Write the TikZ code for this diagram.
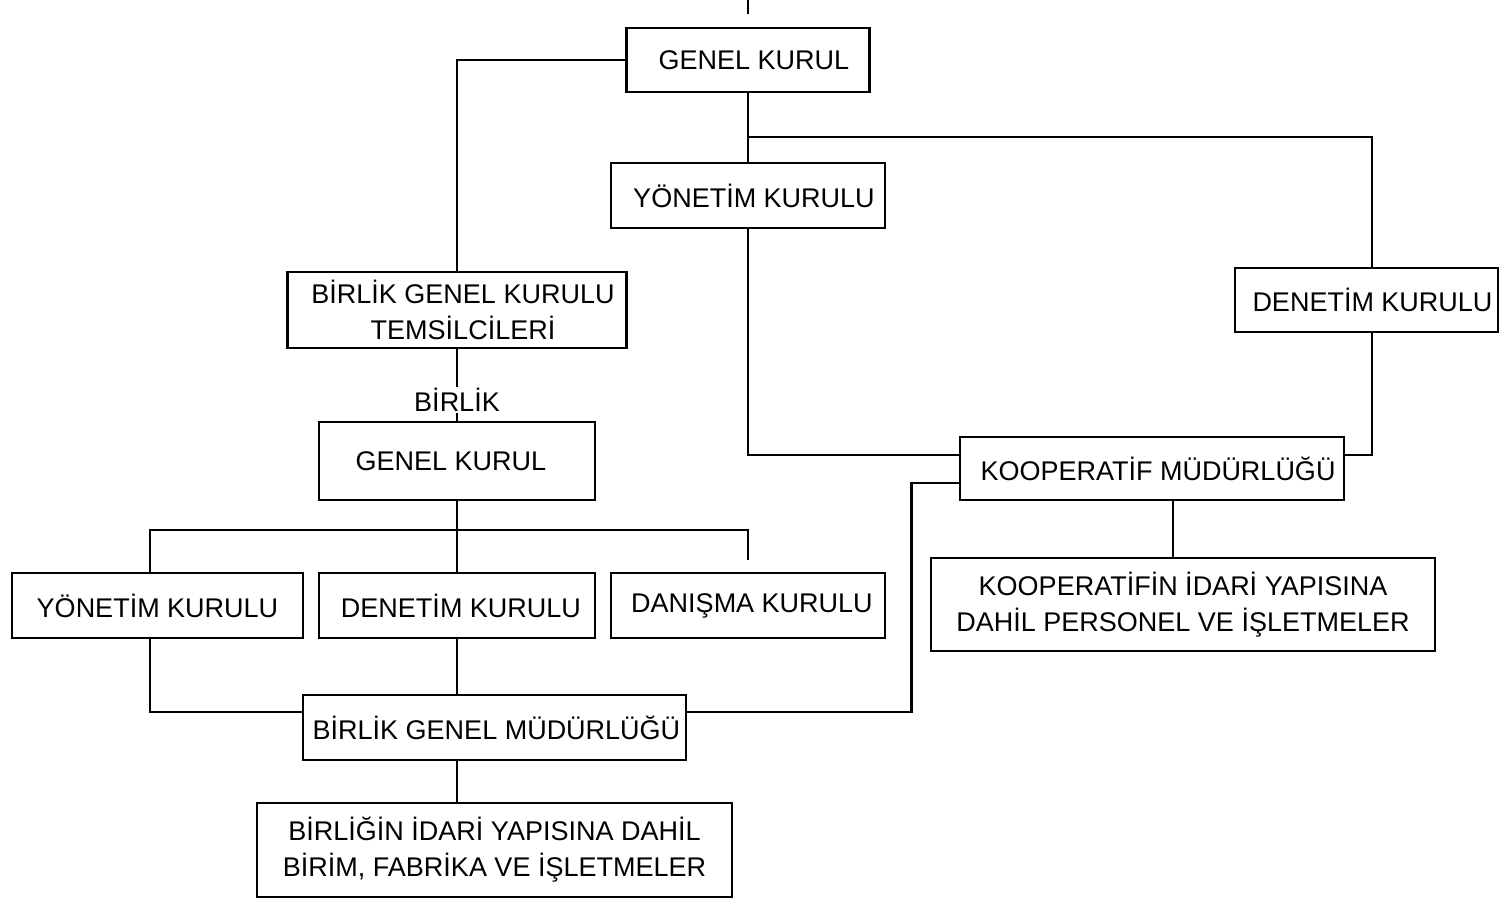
\documentclass[tikz,border=0pt]{standalone}
\usepackage{fontspec}
\setmainfont{Liberation Sans}
\begin{document}
\begin{tikzpicture}[x=0.5pt,y=-0.5pt,
  line width=1.4pt,
  box/.style={draw, line width=1.4pt, align=center, inner sep=0pt,
    font=\fontsize{13.5}{18}\selectfont},
  lbl/.style={inner sep=0pt, font=\fontsize{13.5}{18}\selectfont}]
\useasboundingbox (0,0) rectangle (1500,898);

% cooperative level
\node[box, minimum width=121.5pt, minimum height=32pt]   (gk)   at (748,60)     {\hspace*{6pt}GENEL KURUL};
\node[box, minimum width=137pt,   minimum height=32.5pt] (yk)   at (748,195.5)  {\hspace*{6pt}YÖNETİM KURULU};
\node[box, minimum width=131.5pt, minimum height=32pt]   (dk)   at (1366.5,300) {\hspace*{6pt}DENETİM KURULU};
\node[box, minimum width=192pt,   minimum height=31.5pt] (km)   at (1152,468.5) {\hspace*{6pt}KOOPERATİF MÜDÜRLÜĞÜ};
\node[box, minimum width=252pt,   minimum height=46.5pt] (kid)  at (1183,604.5) {KOOPERATİFİN İDARİ YAPISINA\\DAHİL PERSONEL VE İŞLETMELER};

% union level
\node[box, minimum width=169.5pt, minimum height=38pt]   (bgkt) at (457,310)    {\hspace*{6pt}BİRLİK GENEL KURULU\\\hspace*{6pt}TEMSİLCİLERİ};
\node[lbl] (birlik) at (457,400) {BİRLİK};
\node[box, minimum width=138pt,   minimum height=39pt]   (bgk)  at (457,461)    {\hspace*{-6pt}GENEL KURUL};
\node[box, minimum width=145.5pt, minimum height=32.5pt] (byk)  at (157.5,605.5) {YÖNETİM KURULU};
\node[box, minimum width=138pt,   minimum height=32.5pt] (bdk)  at (457,605.5)  {\hspace*{4pt}DENETİM KURULU};
\node[box, minimum width=137pt,   minimum height=32.5pt] (bdan) at (748,605.5)  {\hspace*{4pt}DANIŞMA KURULU};
\node[box, minimum width=191.5pt, minimum height=32.5pt] (bgm)  at (494.5,727.5) {\hspace*{2pt}BİRLİK GENEL MÜDÜRLÜĞÜ};
\node[box, minimum width=237.5pt, minimum height=47pt]   (bid)  at (494.5,850)  {BİRLİĞİN İDARİ YAPISINA DAHİL\\BİRİM, FABRİKA VE İŞLETMELER};

% free ends and junctions
\coordinate (topA) at (748,0);
\coordinate (topB) at (748,14);
\coordinate (j1)   at (748,137);
\coordinate (j2)   at (457,530);
\coordinate (dEnd) at (748,560);

% connectors
\draw (topA) -- (topB);
\draw (gk.west) -| (bgkt.north);
\draw (gk.south) -- (yk.north);
\draw (j1) -| ([xshift=2.75pt]dk.north);
\draw (yk.south) |- ([yshift=6.75pt]km.west);
\draw ([xshift=2.75pt]dk.south) |- ([yshift=6.75pt]km.east);
\draw ([xshift=10.5pt]km.south) -- ([xshift=10.5pt]km.south |- kid.north);
\draw ([yshift=-7.25pt]km.west) -- ++(-23.5pt,0) |- ([yshift=7.75pt]bgm.east);

\draw (bgkt.south) -- (birlik.north);
\draw (birlik.south) -- (bgk.north);
\draw (bgk.south) -- (bdk.north);
\draw ([xshift=-3.75pt]byk.north) |- (dEnd |- j2) -- (dEnd);
\draw ([xshift=-3.75pt]byk.south) |- ([yshift=7.75pt]bgm.west);
\draw (bdk.south) -- (bdk.south |- bgm.north);
\draw (bdk.south |- bgm.south) -- (bdk.south |- bid.north);
\end{tikzpicture}
\end{document}
